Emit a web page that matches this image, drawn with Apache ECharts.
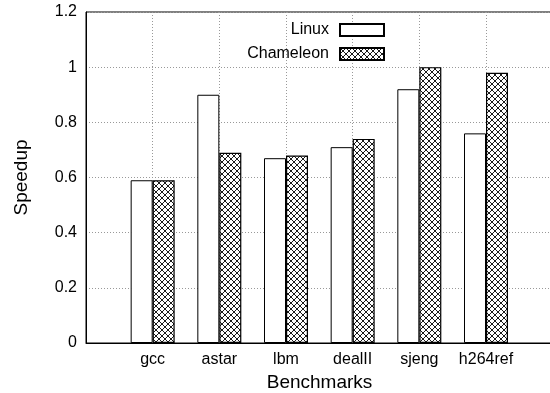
<!DOCTYPE html>
<html>
<head>
<meta charset="utf-8">
<script src="https://cdn.jsdelivr.net/npm/echarts@6/dist/echarts.min.js"></script>
<style>
  html, body { margin: 0; padding: 0; background: #fff; }
  #chart { width: 550px; height: 393px; }
</style>
</head>
<body>
<div id="chart"></div>
<script>
const benchmarks = ["gcc", "astar", "lbm", "dealII", "sjeng", "h264ref"]
const linux = [0.59, 0.90, 0.67, 0.71, 0.92, 0.76]
const chameleon = [0.59, 0.69, 0.68, 0.74, 1.00, 0.98]

// crosshatch fill, like gnuplot's pattern 2
function makeHatch() {
  const c = document.createElement("canvas")
  c.width = 6
  c.height = 6
  const ctx = c.getContext("2d")
  ctx.fillStyle = "#fff"
  ctx.fillRect(0, 0, 6, 6)
  ctx.strokeStyle = "#000"
  ctx.lineWidth = 0.9
  ctx.beginPath()
  ctx.moveTo(0, 0); ctx.lineTo(6, 6)
  ctx.moveTo(6, 0); ctx.lineTo(0, 6)
  ctx.stroke()
  return c
}

const chart = echarts.init(document.getElementById("chart"))
const font = "Liberation Sans"

// the frame runs past the right edge of the picture, as in the original
const option = {
  backgroundColor: "#fff",
  animation: false,
  grid: {
    left: 86,
    top: 12,
    width: 480,
    height: 331,
    outerBoundsMode: "none",
    containLabel: false,
    show: true,
    borderColor: "#000",
    borderWidth: 1,
  },
  legend: {
    orient: "vertical",
    align: "right",
    right: 160,
    top: 17,
    icon: "rect",
    itemWidth: 44,
    itemHeight: 12,
    itemGap: 8,
    textStyle: { fontFamily: font, fontSize: 16, color: "#000", padding: [0, 6, 0, 0] },
    data: ["Linux", "Chameleon"],
  },
  xAxis: {
    type: "value",
    min: 0,
    max: 7.2,
    interval: 1,
    name: "Benchmarks",
    nameLocation: "middle",
    nameGap: 29,
    nameTextStyle: { fontFamily: font, fontSize: 19, color: "#000", padding: [0, 13, 0, 0] },
    axisLine: { show: true, lineStyle: { color: "#000", width: 1 } },
    axisTick: { show: false },
    axisLabel: {
      fontFamily: font,
      fontSize: 16,
      color: "#000",
      margin: 9,
      showMaxLabel: false,
      formatter: (v) => benchmarks[v - 1] || "",
    },
    splitLine: { show: true, lineStyle: { color: "#999", type: [1, 2], width: 1 } },
  },
  yAxis: {
    type: "value",
    min: 0,
    max: 1.2,
    interval: 0.2,
    name: "Speedup",
    nameLocation: "middle",
    nameGap: 55,
    nameTextStyle: { fontFamily: font, fontSize: 19, color: "#000" },
    axisLine: { show: true, lineStyle: { color: "#000", width: 1 } },
    axisTick: { show: false },
    axisLabel: { fontFamily: font, fontSize: 16, color: "#000", margin: 9 },
    splitLine: { show: true, lineStyle: { color: "#999", type: [1, 2], width: 1 } },
  },
  series: [
    {
      name: "Linux",
      type: "bar",
      barWidth: 22,
      barGap: "0%",
      data: linux.map((v, i) => [i + 1, v]),
      itemStyle: { color: "#fff", borderColor: "#000", borderWidth: 1 },
    },
    {
      name: "Chameleon",
      type: "bar",
      barWidth: 22,
      barGap: "0%",
      data: chameleon.map((v, i) => [i + 1, v]),
      itemStyle: {
        color: { image: makeHatch(), repeat: "repeat" },
        borderColor: "#000",
        borderWidth: 1.2,
      },
    },
  ],
}

chart.setOption(option)
</script>
</body>
</html>
